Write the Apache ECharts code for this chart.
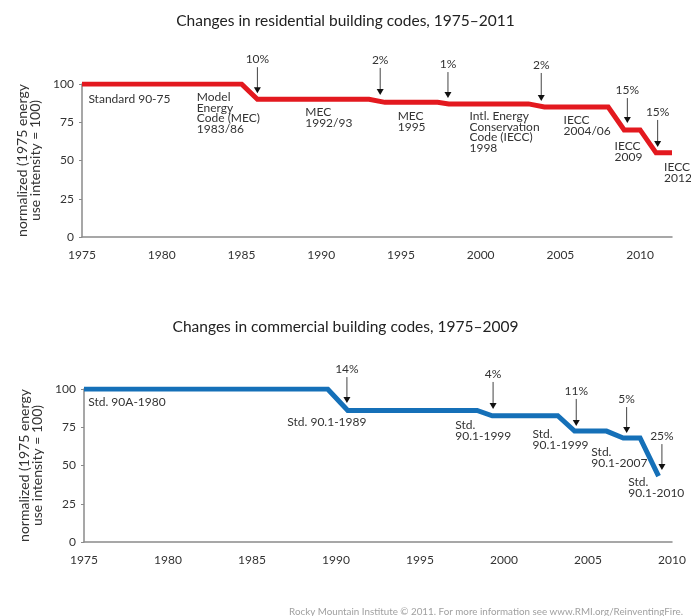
<!DOCTYPE html>
<html>
<head>
<meta charset="utf-8">
<script src="https://cdn.jsdelivr.net/npm/echarts@6/dist/echarts.min.js"></script>
<style>
  html, body { margin: 0; padding: 0; background: #fff; }
  #chart { width: 691px; height: 616px; }
</style>
</head>
<body>
<div id="chart"></div>
<script>
// residential codes (red)
var resYears  = [1975, 1985, 1986, 1993, 1994, 1997.3, 1998, 2003, 2004, 2008, 2009, 2010, 2011, 2012];
var resValues = [100, 100, 90, 90, 88, 88, 87, 87, 85, 85, 70, 70, 55, 55];

var resArrowText  = ['10%', '2%', '1%', '2%', '15%', '15%'];
var resArrowYears = [1986, 1993.7, 1997.95, 2003.8, 2009.2, 2011.1];
var resArrowTop   = [111, 110.5, 107.8, 107.2, 90.8, 76.5];
var resArrowTip   = [94, 92.8, 90.8, 88.9, 74.5, 58.8];

var resCodeNames  = ['Standard 90-75', 'Model\nEnergy\nCode (MEC)\n1983/86', 'MEC\n1992/93', 'MEC\n1995',
                     'Intl. Energy\nConservation\nCode (IECC)\n1998', 'IECC\n2004/06', 'IECC\n2009', 'IECC\n2012'];
var resCodeYears  = [1975.4, 1982.2, 1989.0, 1994.8, 1999.3, 2005.2, 2008.4, 2011.5];
var resCodeValues = [93.5, 94.8, 85, 82.4, 82.4, 79.7, 62.7, 49];

// commercial codes (blue)
var comYears  = [1975, 1989.5, 1990.7, 1998.4, 1999.3, 2003.2, 2004.2, 2006.1, 2007.1, 2008.1, 2009.2];
var comValues = [100, 100, 86, 86, 82.5, 82.5, 72.5, 72.5, 68, 68, 43];

var comArrowText  = ['14%', '4%', '11%', '5%', '25%'];
var comArrowYears = [1990.65, 1999.35, 2004.3, 2007.3, 2009.4];
var comArrowTop   = [107.8, 104.6, 93.5, 88.2, 64];
var comArrowTip   = [90.8, 86.9, 75.8, 71.2, 47];

var comCodeNames  = ['Std. 90A-1980', 'Std. 90.1-1989', 'Std.\n90.1-1999', 'Std.\n90.1-1999', 'Std.\n90.1-2007', 'Std.\n90.1-2010'];
var comCodeYears  = [1975.25, 1987.1, 1997.1, 2001.7, 2005.2, 2007.4];
var comCodeValues = [94.8, 81.7, 79.7, 73.9, 62.1, 42.5];

var yTicks = [0, 25, 50, 75, 100];

var FONT = 'Lato';
var TEXT = '#333';

function pairs(xs, ys) {
  return xs.map(function (x, i) { return [x, ys[i]]; });
}

function arrowSeries(idx, years, tops, tips, texts) {
  return {
    type: 'custom',
    xAxisIndex: idx,
    yAxisIndex: idx,
    clip: false,
    silent: true,
    data: years.map(function (y, i) { return [y, tops[i], tips[i]]; }),
    renderItem: function (params, api) {
      var top = api.coord([api.value(0), api.value(1)]);
      var tip = api.coord([api.value(0), api.value(2)]);
      return {
        type: 'group',
        children: [
          { type: 'line', shape: { x1: top[0], y1: top[1], x2: tip[0], y2: tip[1] - 5 },
            style: { stroke: '#444', lineWidth: 1 } },
          { type: 'polygon', shape: { points: [[tip[0] - 3.5, tip[1] - 6], [tip[0] + 3.5, tip[1] - 6], [tip[0], tip[1]]] },
            style: { fill: '#111' } },
          { type: 'text', x: top[0], y: top[1] - 2,
            style: { text: texts[params.dataIndex], fill: TEXT, font: '12px ' + FONT,
                     align: 'center', verticalAlign: 'bottom' } }
        ]
      };
    }
  };
}

function codeSeries(idx, years, values, names) {
  return {
    type: 'custom',
    xAxisIndex: idx,
    yAxisIndex: idx,
    clip: false,
    silent: true,
    data: years.map(function (y, i) { return [y, values[i]]; }),
    renderItem: function (params, api) {
      var p = api.coord([api.value(0), api.value(1)]);
      return {
        type: 'text', x: p[0], y: p[1],
        style: { text: names[params.dataIndex], fill: TEXT, font: '12px ' + FONT,
                 align: 'left', verticalAlign: 'top', lineHeight: 10.5 }
      };
    }
  };
}

function xAxis(idx, max) {
  return {
    type: 'value', gridIndex: idx, min: 1975, max: max, interval: 5,
    axisLine: { lineStyle: { color: '#8a8a8a', width: 1.5 } },
    axisTick: { show: false },
    splitLine: { show: false },
    axisLabel: {
      color: TEXT, fontFamily: FONT, fontSize: 12, margin: 12,
      formatter: function (v) { return v % 5 ? '' : String(v); }
    }
  };
}

function yAxis(idx) {
  return {
    type: 'value', gridIndex: idx, min: yTicks[0], max: yTicks[yTicks.length - 1], interval: 25,
    name: 'normalized (1975 energy\nuse intensity = 100)',
    nameLocation: 'middle', nameGap: 36, nameRotate: 90,
    nameTextStyle: { color: TEXT, fontFamily: FONT, fontSize: 14, lineHeight: 13 },
    axisLine: { show: true, lineStyle: { color: '#8a8a8a', width: 1.5 } },
    axisTick: { show: true, length: 3, lineStyle: { color: '#8a8a8a' } },
    splitLine: { show: false },
    axisLabel: { color: TEXT, fontFamily: FONT, fontSize: 12, margin: 8 }
  };
}

var chart = echarts.init(document.getElementById('chart'), null, { renderer: 'canvas' });

chart.setOption({
  animation: false,
  backgroundColor: '#fff',
  title: [
    { text: 'Changes in residential building codes, 1975\u20132011', left: 'center', top: 8,
      textStyle: { color: '#222', fontFamily: FONT, fontSize: 15.5, fontWeight: 'normal' } },
    { text: 'Changes in commercial building codes, 1975\u20132009', left: 'center', top: 314,
      textStyle: { color: '#222', fontFamily: FONT, fontSize: 15.5, fontWeight: 'normal' } },
    { text: 'Rocky Mountain Institute \u00a9 2011. For more information see www.RMI.org/ReinventingFire.',
      right: 3, top: 602,
      textStyle: { color: '#a0a0a0', fontFamily: FONT, fontSize: 9.8, fontWeight: 'normal' } }
  ],
  grid: [
    { left: 82, top: 84, width: 590, height: 153 },
    { left: 84, top: 389, width: 588, height: 153 }
  ],
  xAxis: [xAxis(0, 2012), xAxis(1, 2010)],
  yAxis: [yAxis(0), yAxis(1)],
  series: [
    {
      type: 'line', xAxisIndex: 0, yAxisIndex: 0,
      data: pairs(resYears, resValues),
      symbol: 'none',
      lineStyle: { color: '#e3191f', width: 5, join: 'miter' }
    },
    {
      type: 'line', xAxisIndex: 1, yAxisIndex: 1,
      data: pairs(comYears, comValues),
      symbol: 'none',
      lineStyle: { color: '#1570b8', width: 5, join: 'miter' }
    },
    arrowSeries(0, resArrowYears, resArrowTop, resArrowTip, resArrowText),
    codeSeries(0, resCodeYears, resCodeValues, resCodeNames),
    arrowSeries(1, comArrowYears, comArrowTop, comArrowTip, comArrowText),
    codeSeries(1, comCodeYears, comCodeValues, comCodeNames)
  ]
});
</script>
</body>
</html>
